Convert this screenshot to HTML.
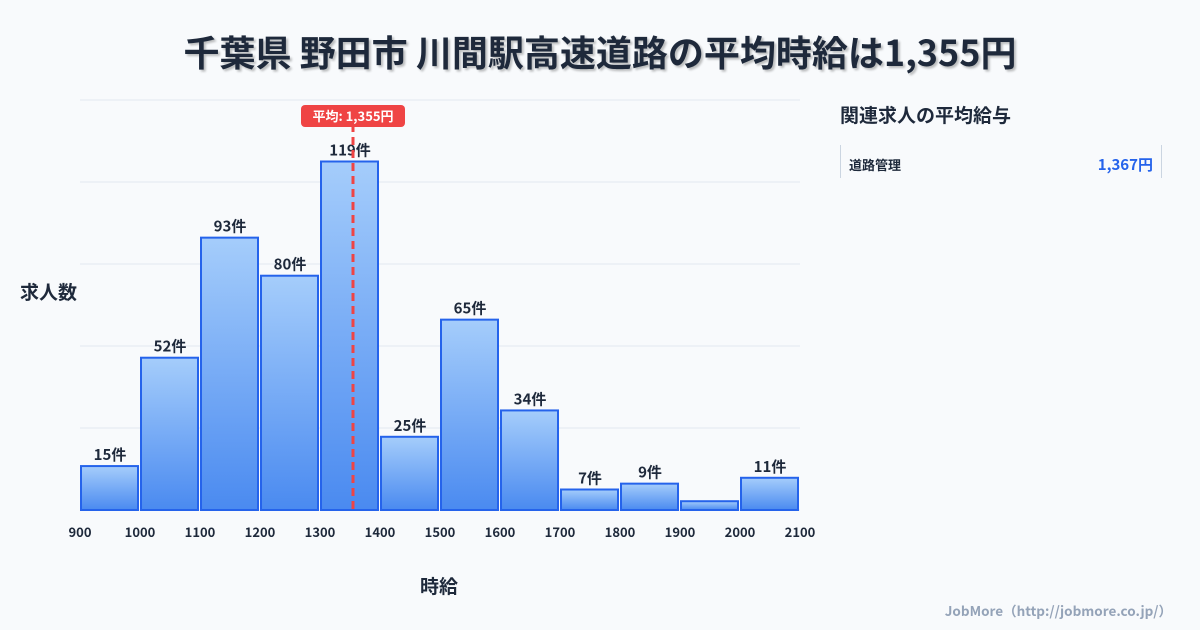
<!DOCTYPE html>
<html><head><meta charset="utf-8"><style>
body{margin:0;width:1200px;height:630px;background:#f8fafc;font-family:"Noto Sans CJK JP","Liberation Sans",sans-serif;overflow:hidden;position:relative}
.t{position:absolute;color:#1e293b;font-weight:bold}
svg text{font-family:"Noto Sans CJK JP","Liberation Sans",sans-serif}
</style></head><body>
<div class="t" style="left:0;width:1200px;top:25px;text-align:center;font-size:36px;text-shadow:2px 2px 2px rgba(0,0,0,0.25)">千葉県 野田市 川間駅高速道路の平均時給は1,355円</div>
<div class="t" style="left:20px;top:278px;font-size:19px">求人数</div>
<div class="t" style="left:420px;top:572px;font-size:19px">時給</div>
<div class="t" style="left:840px;top:101px;font-size:19px">関連求人の平均給与</div>
<div style="position:absolute;left:840px;top:145px;width:320px;height:33px;border-left:1px solid #cbd5e1;border-right:1px solid #cbd5e1">
<span style="position:absolute;left:8px;top:10px;font-size:13px;font-weight:bold;color:#1e293b">道路管理</span>
<span style="position:absolute;right:8px;top:9px;font-size:15px;font-weight:bold;color:#2563eb">1,367円</span></div>
<div style="position:absolute;right:28px;top:600px;font-size:13.5px;font-weight:bold;color:#94a3b8">JobMore（http://jobmore.co.jp/）</div>
<svg id="c" width="1200" height="630" style="position:absolute;left:0;top:0">
<defs><linearGradient id="g" x1="0" y1="0" x2="0" y2="1"><stop offset="0" stop-color="#a5cdfb"/><stop offset="1" stop-color="#4a8af0"/></linearGradient></defs>
</svg>
<script>
const bins=[900,1000,1100,1200,1300,1400,1500,1600,1700,1800,1900,2000];
const counts=[15,52,93,80,119,25,65,34,7,9,3,11];
const labels=["15件","52件","93件","80件","119件","25件","65件","34件","7件","9件","","11件"];
const xTicks=[900,1000,1100,1200,1300,1400,1500,1600,1700,1800,1900,2000,2100];
const yGrid=[0,28,56,84,112,140];
const meanValue=1355;
const NS="http://www.w3.org/2000/svg",svg=document.getElementById('c');
const X=v=>80+(v-900)*0.6, Y=v=>510-v*410/140;
function mk(t,a){const e=document.createElementNS(NS,t);for(const k in a)e.setAttribute(k,a[k]);svg.appendChild(e);return e;}
yGrid.forEach(v=>{const l=mk('line',{x1:80,x2:800,y1:Y(v),y2:Y(v),stroke:'#e2e8f0'});

});
bins.forEach((b,i)=>{const r=mk('rect',{x:X(b)+1,y:Y(counts[i]),width:57,height:510-Y(counts[i]),fill:'url(#g)',stroke:'#2563eb','stroke-width':2});


if(labels[i]){const t=mk('text',{x:X(b)+30,y:Y(counts[i])-6,'text-anchor':'middle','font-size':15,'font-weight':'bold',fill:'#1e293b'});t.textContent=labels[i];

}});
xTicks.forEach(v=>{const t=mk('text',{x:X(v),y:537,'text-anchor':'middle','font-size':13,'font-weight':'bold',fill:'#1e293b'});t.textContent=v;

});
const mx=X(meanValue);
const ml=mk('line',{x1:mx,x2:mx,y1:124,y2:510,stroke:'#ef4444','stroke-width':3,'stroke-dasharray':'8,5'});


const mb=mk('rect',{x:mx-52,y:105,width:104,height:22,rx:4,fill:'#ef4444'});


const mt=mk('text',{x:mx,y:121,'text-anchor':'middle','font-size':13,'font-weight':'bold',fill:'#fff'});mt.textContent='平均: 1,355円';


</script>
</body></html>
